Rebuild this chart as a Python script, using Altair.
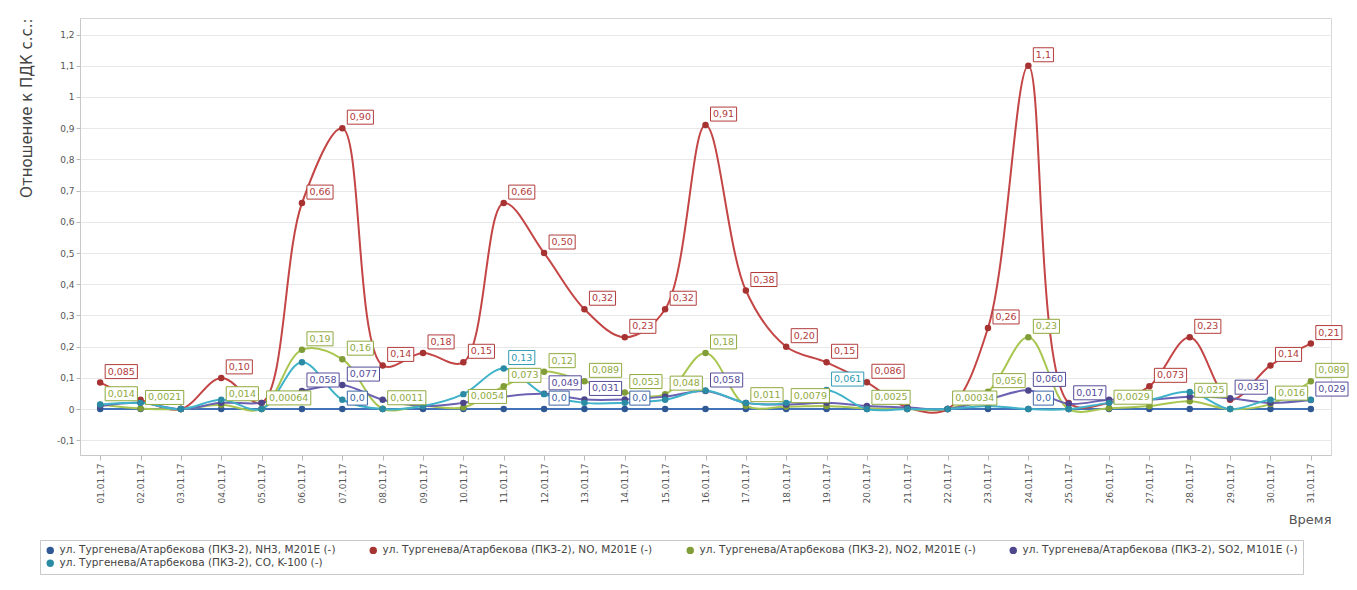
import altair as alt
import pandas as pd

dates = ["01.01.17", "02.01.17", "03.01.17", "04.01.17", "05.01.17", "06.01.17", "07.01.17",
         "08.01.17", "09.01.17", "10.01.17", "11.01.17", "12.01.17", "13.01.17", "14.01.17",
         "15.01.17", "16.01.17", "17.01.17", "18.01.17", "19.01.17", "20.01.17", "21.01.17",
         "22.01.17", "23.01.17", "24.01.17", "25.01.17", "26.01.17", "27.01.17", "28.01.17",
         "29.01.17", "30.01.17", "31.01.17"]

series_names = [
    "ул. Тургенева/Атарбекова (ПКЗ-2), NH3, M201E (-)",
    "ул. Тургенева/Атарбекова (ПКЗ-2), NO, M201E (-)",
    "ул. Тургенева/Атарбекова (ПКЗ-2), NO2, M201E (-)",
    "ул. Тургенева/Атарбекова (ПКЗ-2), SO2, M101E (-)",
    "ул. Тургенева/Атарбекова (ПКЗ-2), CO, K-100 (-)",
]

nh3 = [0, 0, 0, 0, 0, 0, 0, 0, 0, 0, 0, 0, 0, 0, 0, 0, 0, 0, 0, 0, 0, 0, 0, 0, 0, 0, 0, 0, 0, 0, 0]
no = [0.085, 0.03, 0.0, 0.10, 0.02, 0.66, 0.90, 0.14, 0.18, 0.15, 0.66, 0.50, 0.32, 0.23, 0.32,
      0.91, 0.38, 0.20, 0.15, 0.086, 0.005, 0.0, 0.26, 1.1, 0.02, 0.02, 0.073, 0.23, 0.03, 0.14, 0.21]
no2 = [0.014, 0.0021, 0.0, 0.014, 0.00064, 0.19, 0.16, 0.0011, 0.01, 0.0054, 0.073, 0.12, 0.089,
       0.053, 0.048, 0.18, 0.011, 0.0079, 0.01, 0.0025, 0.0, 0.00034, 0.056, 0.23, 0.0, 0.0029,
       0.01, 0.025, 0.0, 0.016, 0.089]
so2 = [0.01, 0.02, 0.0, 0.02, 0.02, 0.058, 0.077, 0.03, 0.01, 0.02, 0.04, 0.049, 0.031, 0.031,
       0.04, 0.058, 0.02, 0.015, 0.02, 0.01, 0.005, 0.0, 0.03, 0.060, 0.017, 0.03, 0.03, 0.04,
       0.035, 0.02, 0.029]
co = [0.015, 0.02, 0.0, 0.03, 0.0, 0.15, 0.03, 0.0, 0.01, 0.048, 0.13, 0.048, 0.02, 0.02, 0.03,
      0.06, 0.02, 0.02, 0.061, 0.0, 0.0, 0.0, 0.01, 0.0, 0.0, 0.02, 0.03, 0.055, 0.0, 0.03, 0.03]

nh3_labels = ["", "", "", "", "", "", "0,0", "", "", "", "", "0,0", "", "0,0", "", "", "", "",
              "", "", "", "", "", "0,0", "", "", "", "", "", "", ""]
no_labels = ["0,085", "", "", "0,10", "", "0,66", "0,90", "0,14", "0,18", "0,15", "0,66", "0,50",
             "0,32", "0,23", "0,32", "0,91", "0,38", "0,20", "0,15", "0,086", "", "", "0,26", "1,1",
             "", "", "0,073", "0,23", "", "0,14", "0,21"]
no2_labels = ["0,014", "0,0021", "", "0,014", "0,00064", "0,19", "0,16", "0,0011", "", "0,0054",
              "0,073", "0,12", "0,089", "0,053", "0,048", "0,18", "0,011", "0,0079", "", "0,0025",
              "", "0,00034", "0,056", "0,23", "", "0,0029", "", "0,025", "", "0,016", "0,089"]
so2_labels = ["", "", "", "", "", "0,058", "0,077", "", "", "", "", "0,049", "0,031", "", "",
              "0,058", "", "", "", "", "", "", "", "0,060", "0,017", "", "", "", "0,035", "", "0,029"]
co_labels = ["", "", "", "", "", "", "", "", "", "", "0,13", "", "", "", "", "", "", "",
             "0,061", "", "", "", "", "", "", "", "", "", "", "", ""]

line_cols = ["#4272b8", "#c44545", "#a9c650", "#6c62b3", "#40b2c9"]
point_cols = ["#2f5894", "#a63232", "#809d38", "#4d468a", "#2c8ba4"]
label_cols = ["#3b64a6", "#b23c3c", "#8fa93e", "#544c99", "#2f9ab3"]

rows = []
all_vals = [nh3, no, no2, so2, co]
all_labs = [nh3_labels, no_labels, no2_labels, so2_labels, co_labels]
for i, s in enumerate(series_names):
    for d, v, l in zip(dates, all_vals[i], all_labs[i]):
        rows.append({"date": d, "value": v, "series": s, "label": l,
                     "lcol": line_cols[i], "tcol": label_cols[i], "order": i})
df = pd.DataFrame(rows)

lab = df[df["label"] != ""].copy()


def box_path(text):
    digits = sum(ch.isdigit() for ch in text)
    commas = len(text) - digits
    w = 6.04 * digits + 3.0 * commas + 5
    return f"M5,-18H{5 + w:.1f}V-4H5Z"


lab["box"] = lab["label"].map(box_path)

x_enc = alt.X("date:O", sort=dates,
              scale=alt.Scale(type="point", padding=0.5),
              axis=alt.Axis(title="Время", labelAngle=270, labelFontSize=9,
                            labelFont="DejaVu Sans", labelColor="#555",
                            labelPadding=3, tickSize=5, tickColor="#bbb",
                            domainColor="#c8c8c8", titleAnchor="end",
                            titleFontSize=13, titleFontWeight="normal",
                            titleFont="DejaVu Sans", titleColor="#555",
                            titlePadding=10, grid=False))
y_enc = alt.Y("value:Q",
              scale=alt.Scale(domain=[-0.147, 1.253], nice=False, zero=False),
              axis=alt.Axis(title="Отношение к ПДК с.с.:",
                            values=[-0.1, 0, 0.1, 0.2, 0.3, 0.4, 0.5, 0.6, 0.7, 0.8, 0.9,
                                    1.0, 1.1, 1.2],
                            labelExpr="replace(replace(format(datum.value, '~g'), '.', ','), '−', '-')",
                            labelFontSize=9, labelFont="DejaVu Sans", labelColor="#555",
                            tickSize=4, tickColor="#bbb", domainColor="#c8c8c8",
                            gridColor="#e8e8e8", titleAnchor="end", titleFontSize=15,
                            titleFontWeight="normal", titleFont="DejaVu Sans",
                            titleColor="#444", titlePadding=22))

base = alt.Chart(df)

lines = base.mark_line(interpolate="catmull-rom", strokeWidth=2).encode(
    x=x_enc, y=y_enc,
    color=alt.Color("lcol:N", scale=None),
    detail="series:N",
    order=alt.Order("order:Q"),
)

points = base.mark_circle(size=42, opacity=1).encode(
    x=x_enc, y=y_enc,
    color=alt.Color("series:N",
                    scale=alt.Scale(domain=series_names, range=point_cols),
                    legend=alt.Legend(title=None, orient="none", legendX=-40, legendY=522,
                                      direction="horizontal", columns=4,
                                      symbolType="circle", symbolSize=55,
                                      labelFontSize=10.5, labelFont="DejaVu Sans",
                                      labelColor="#444", labelLimit=400,
                                      columnPadding=32, rowPadding=2,
                                      strokeColor="#c8c8c8", padding=5,
                                      fillColor="white")),
)

boxes = alt.Chart(lab).mark_point(size=4, opacity=1, strokeWidth=1).encode(
    x=x_enc, y=y_enc,
    shape=alt.Shape("box:N", scale=None),
    fill=alt.value("white"),
    stroke=alt.Stroke("tcol:N", scale=None),
)

texts = alt.Chart(lab).mark_text(align="left", baseline="middle", dx=7.5, dy=-11,
                                 fontSize=9.5, font="DejaVu Sans").encode(
    x=x_enc, y=y_enc,
    text="label:N",
    color=alt.Color("tcol:N", scale=None),
)

chart = alt.layer(lines, points, boxes, texts).resolve_scale(
    color="independent"
).properties(
    width=1251, height=437,
    autosize=alt.AutoSizeParams(type="none"),
    padding={"left": 72, "top": 10, "right": 18, "bottom": 125},
    background="white",
).configure_view(stroke="#d8d8d8")

chart.save("out.html", embed_options={"renderer": "svg", "actions": False})
